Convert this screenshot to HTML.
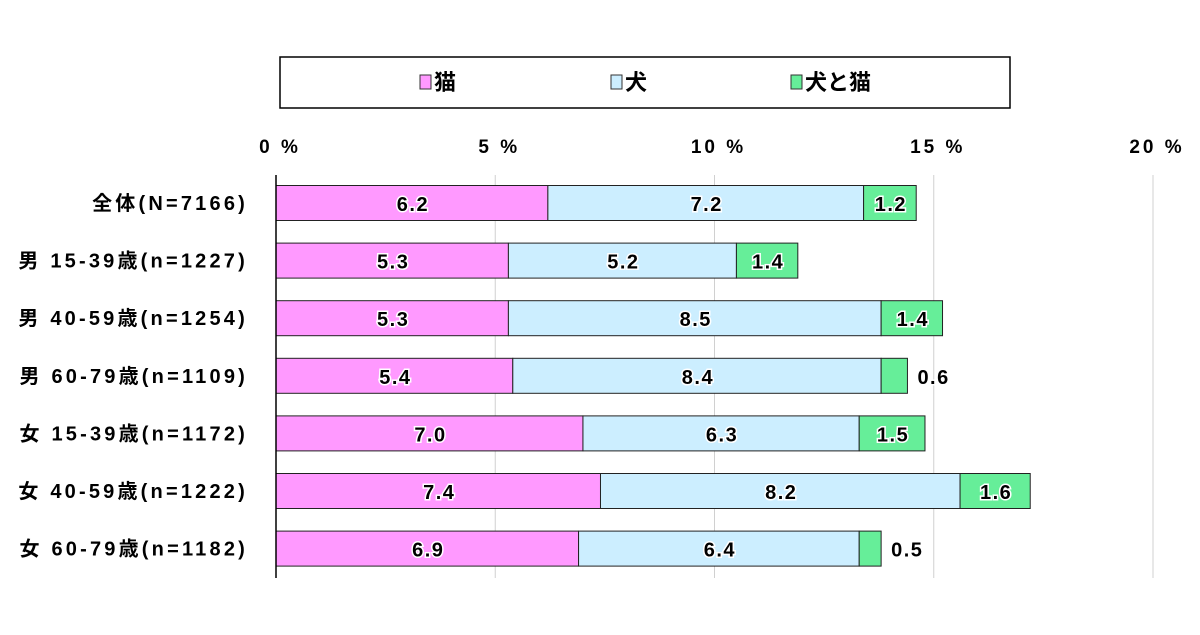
<!DOCTYPE html>
<html><head><meta charset="utf-8"><style>
body{margin:0;background:#fff;}
svg text{font-family:"Liberation Sans","Noto Sans CJK JP",sans-serif;font-weight:bold;}
</style></head><body>
<svg id="chart" width="1200" height="630" viewBox="0 0 1200 630">
<rect x="280" y="57" width="730" height="51" fill="#fff" stroke="#000" stroke-width="1.5"/>
<g><rect x="420" y="75" width="11" height="14" fill="#ff99ff" stroke="#333"/><text x="434" y="90" font-size="22">猫</text></g>
<g><rect x="611" y="75" width="11" height="14" fill="#cceeff" stroke="#333"/><text x="625" y="90" font-size="22">犬</text></g>
<g><rect x="791" y="75" width="11" height="14" fill="#66ee99" stroke="#333"/><text x="805" y="90" font-size="22">犬と猫</text></g>
<g id="grid"></g><g id="bars"></g><g id="labels"></g>
</svg>
<script>
const categories=["全体(N=7166)","男 15-39歳(n=1227)","男 40-59歳(n=1254)","男 60-79歳(n=1109)","女 15-39歳(n=1172)","女 40-59歳(n=1222)","女 60-79歳(n=1182)"];
const catValues=[6.2,5.3,5.3,5.4,7.0,7.4,6.9];
const dogValues=[7.2,5.2,8.5,8.4,6.3,8.2,6.4];
const bothValues=[1.2,1.4,1.4,0.6,1.5,1.6,0.5];
const ticks=[0,5,10,15,20];
const tickLabels=["0 %","5 %","10 %","15 %","20 %"];
const NS="http://www.w3.org/2000/svg";
const x0=276,x1=1153,xMax=20,yTop=175,yBottom=578,rowStart=203,rowStep=57.6,barH=35;
const xs=v=>x0+v/xMax*(x1-x0);
const ys=i=>rowStart+i*rowStep;
function mk(tag,attrs,parent,txt){const e=document.createElementNS(NS,tag);for(const k in attrs)e.setAttribute(k,attrs[k]);if(txt!==undefined)e.textContent=txt;parent.appendChild(e);return e;}
const grid=document.getElementById('grid'),bars=document.getElementById('bars'),labels=document.getElementById('labels');
ticks.forEach((t,i)=>{
  if(t>0){const g=mk('line',{x1:xs(t),x2:xs(t),y1:yTop,y2:yBottom,stroke:'#d0d0d0','stroke-width':1},grid);
  
  }
  const tl=mk('text',{x:xs(t)+4,y:153,'text-anchor':'middle','font-size':19,'letter-spacing':3},labels,tickLabels[i]);
  
  
});
const ax=mk('line',{x1:x0,x2:x0,y1:yTop,y2:yBottom,stroke:'#000','stroke-width':1.5},labels);


const series=[[catValues,'#ff99ff','cat'],[dogValues,'#cceeff','dog'],[bothValues,'#66ee99','both']];
categories.forEach((c,i)=>{
  const yc=ys(i);
  const cl=mk('text',{x:248,y:yc+7,'text-anchor':'end','font-size':20,'letter-spacing':3.2},labels,c);
  
  
  let acc=0;
  series.forEach(([vals,col,nm])=>{
    const v=vals[i],xa=xs(acc),xb=xs(acc+v);
    const r=mk('rect',{x:xa,y:yc-barH/2,width:xb-xa,height:barH,fill:col,stroke:'#222','stroke-width':1},bars);
    
    
    const inside=v>=1;
    const tx=inside?(xa+xb)/2+1:xb+10;
    const t=mk('text',{x:tx,y:yc+8,'text-anchor':inside?'middle':'start','font-size':20,'letter-spacing':1.5,fill:'#000',stroke:'#fff','stroke-width':3,'paint-order':'stroke'},labels,v.toFixed(1));
    
    
    acc+=v;
  });
});
</script>
</body></html>
